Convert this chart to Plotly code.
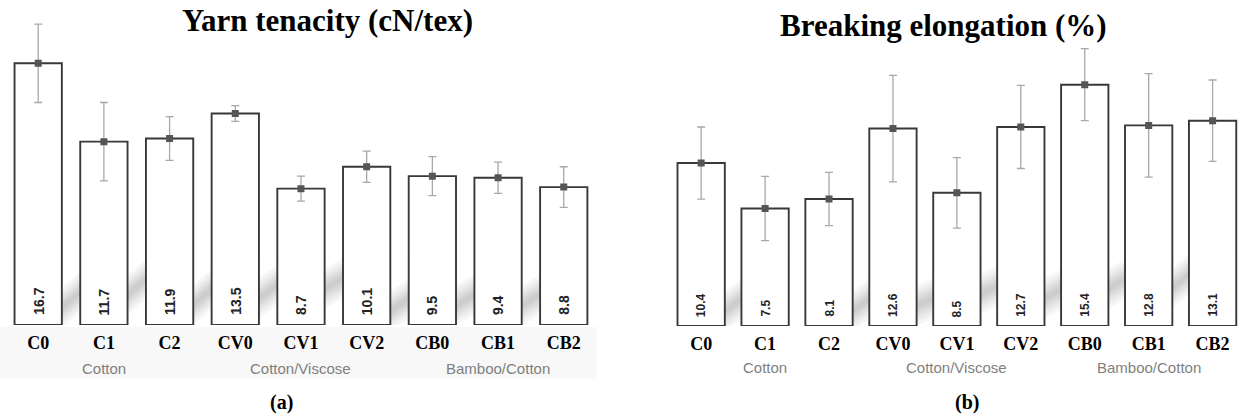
import plotly.graph_objects as go

# ---- data -------------------------------------------------------------
samples = ["C0", "C1", "C2", "CV0", "CV1", "CV2", "CB0", "CB1", "CB2"]
groups = ["Cotton", "Cotton/Viscose", "Bamboo/Cotton"]
group_centre = [1, 4, 7]

tenacity = [16.7, 11.7, 11.9, 13.5, 8.7, 10.1, 9.5, 9.4, 8.8]
tenacity_err = [2.5, 2.5, 1.4, 0.5, 0.8, 1.0, 1.25, 1.0, 1.3]

elongation = [10.4, 7.5, 8.1, 12.6, 8.5, 12.7, 15.4, 12.8, 13.1]
elongation_err = [2.3, 2.05, 1.7, 3.4, 2.25, 2.65, 2.3, 3.3, 2.6]

# ---- page geometry (pixels) -------------------------------------------
W, H = 1242, 418
PX_PER_UNIT = 15.67


def fx(px):
    return px / W


def fy(py):
    return 1 - py / H


# left panel
L_BASE, L_TOP = 325, 10
L_X0, L_X1 = 5.35, 596.6
# right panel
R_BASE, R_TOP = 326, 10
R_X0, R_STEP = 669.2, 63.93

fig = go.Figure()

BAR_LINE = "#383838"
ERR_COL = "#a8a8a8"
MARK_COL = "#555555"


def add_panel(vals, errs, xa, ya, width):
    xs = list(range(len(vals)))
    fig.add_trace(go.Bar(
        x=xs, y=vals, width=width, xaxis=xa, yaxis=ya,
        marker=dict(color="white", line=dict(color=BAR_LINE, width=1.9)),
        showlegend=False, hoverinfo="skip",
    ))
    fig.add_trace(go.Scatter(
        x=xs, y=vals, xaxis=xa, yaxis=ya, mode="markers",
        marker=dict(symbol="square", size=7, color=MARK_COL),
        error_y=dict(type="data", array=errs, color=ERR_COL,
                     thickness=1.3, width=4),
        showlegend=False, hoverinfo="skip",
    ))


add_panel(tenacity, tenacity_err, "x", "y", 0.72)
add_panel(elongation, elongation_err, "x2", "y2", 0.74)

# ---- soft diagonal shadows in the gaps between bars ------------------
# (left edge height, right edge height) in px above the baseline
left_shadow = [(15, 35), (28, 48), (18, 38), (25, 42), (35, 48),
               (12, 28), (18, 32), (18, 32)]
right_shadow = [(13, 29), None, (13, 29), (19, 29), (31, 41),
                (26, 38), (36, 48), (36, 54)]

shapes = []

# faint band behind the category labels of the left panel
shapes.append(dict(type="rect", xref="paper", yref="paper",
                   x0=0, x1=fx(L_X1), y0=fy(379), y1=fy(L_BASE + 2),
                   fillcolor="#f8f8f8", line=dict(width=0), layer="below"))


def add_shadows(spec, width, xref, yref):
    half = width / 2
    for i, s in enumerate(spec):
        if s is None:
            continue
        xa = i + half - 0.04
        xb = i + 1 - half + 0.04
        ya = s[0] / PX_PER_UNIT
        yb = s[1] / PX_PER_UNIT
        # stacked translucent bands give a soft, blurred edge
        for t in (20, 16, 12, 9, 6, 3):
            d = t / PX_PER_UNIT
            path = (f"M {xa},{ya - d} L {xb},{yb - d} "
                    f"L {xb},{yb + d} L {xa},{ya + d} Z")
            shapes.append(dict(type="path", path=path, xref=xref, yref=yref,
                               fillcolor="rgba(80,80,80,0.05)",
                               line=dict(width=0), layer="below"))


add_shadows(left_shadow, 0.72, "x", "y")
add_shadows(right_shadow, 0.74, "x2", "y2")

# ---- annotations -------------------------------------------------------
ann = []


def value_labels(vals, xref, yref, size, shift):
    for i, v in enumerate(vals):
        ann.append(dict(x=i, y=0, xref=xref, yref=yref, text=f"{v:.1f}",
                        textangle=-90, showarrow=False, yanchor="bottom",
                        xanchor="center", yshift=shift,
                        font=dict(family="Liberation Sans", size=size,
                                  color="#222222", weight="bold")))


value_labels(tenacity, "x", "y", 14, 8)
value_labels(elongation, "x2", "y2", 12, 7)

for xref, py in (("x", 368), ("x2", 367)):
    for g, c in zip(groups, group_centre):
        ann.append(dict(x=c, y=fy(py), xref=xref, yref="paper", text=g,
                        showarrow=False, xanchor="center", yanchor="middle",
                        font=dict(family="Liberation Sans", size=15,
                                  color="#7f7f7f")))

title_font = dict(family="Liberation Serif", size=31, color="#000000",
                  weight="bold")
ann.append(dict(x=fx(327), y=fy(20), xref="paper", yref="paper",
                text="Yarn tenacity (cN/tex)", showarrow=False,
                xanchor="center", yanchor="middle", font=title_font))
ann.append(dict(x=fx(943), y=fy(25), xref="paper", yref="paper",
                text="Breaking elongation (%)", showarrow=False,
                xanchor="center", yanchor="middle", font=title_font))

panel_font = dict(family="Liberation Serif", size=20, color="#000000",
                  weight="bold")
ann.append(dict(x=fx(281), y=fy(402), xref="paper", yref="paper",
                text="(a)", showarrow=False, xanchor="center",
                yanchor="middle", font=panel_font))
ann.append(dict(x=fx(967), y=fy(402), xref="paper", yref="paper",
                text="(b)", showarrow=False, xanchor="center",
                yanchor="middle", font=panel_font))

# ---- axes --------------------------------------------------------------
tick_font = dict(family="Liberation Serif", size=18, color="#000000",
                 weight="bold")
xcommon = dict(tickmode="array", tickvals=list(range(len(samples))),
               ticktext=samples, tickfont=tick_font, showgrid=False,
               zeroline=False, showline=False, ticks="",
               ticklabelstandoff=5, fixedrange=True)
ycommon = dict(visible=False, showgrid=False, zeroline=False,
               fixedrange=True)

fig.update_layout(
    width=W, height=H,
    margin=dict(l=0, r=0, t=0, b=0),
    paper_bgcolor="white", plot_bgcolor="rgba(0,0,0,0)",
    xaxis=dict(domain=[fx(L_X0), fx(L_X1)], range=[-0.5, 8.5],
               anchor="y", **xcommon),
    yaxis=dict(domain=[fy(L_BASE), fy(L_TOP)],
               range=[0, (L_BASE - L_TOP) / PX_PER_UNIT], anchor="x",
               **ycommon),
    xaxis2=dict(domain=[fx(R_X0), 1.0],
                range=[-0.5, -0.5 + (W - R_X0) / R_STEP],
                anchor="y2", **xcommon),
    yaxis2=dict(domain=[fy(R_BASE), fy(R_TOP)],
                range=[0, (R_BASE - R_TOP) / PX_PER_UNIT], anchor="x2",
                **ycommon),
    shapes=shapes,
    annotations=ann,
)

fig.write_html("out.html")
